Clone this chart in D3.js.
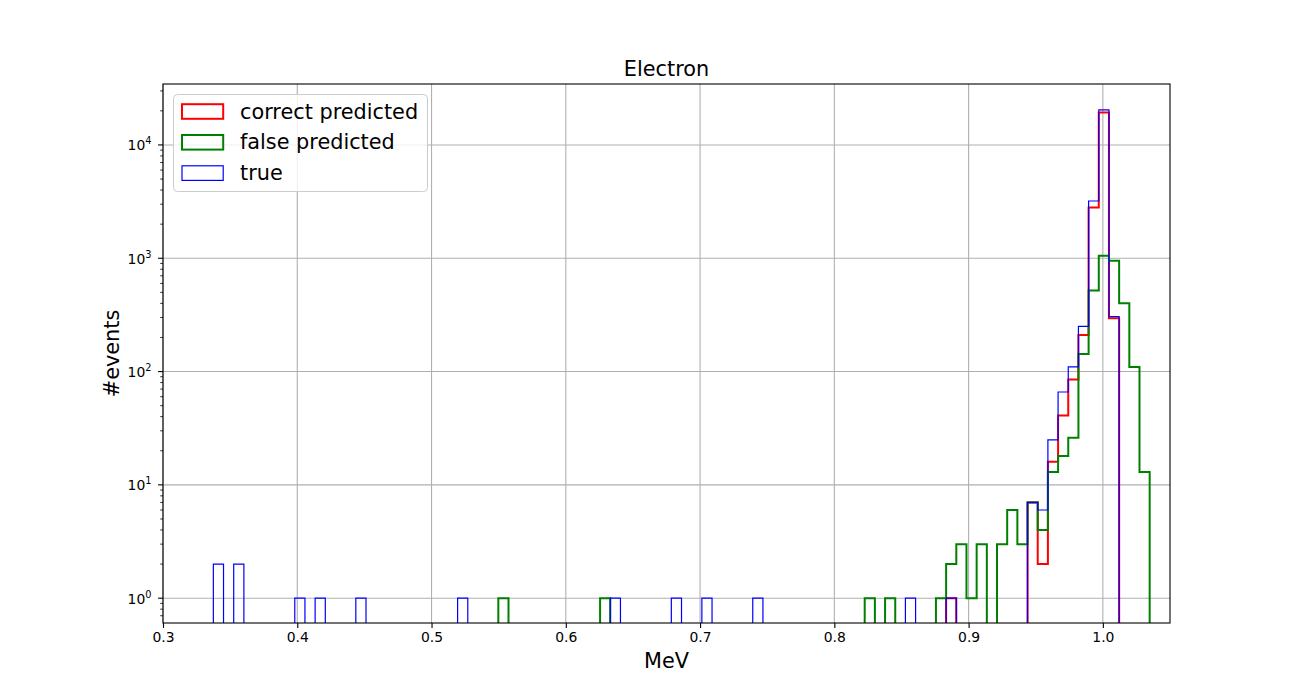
<!DOCTYPE html>
<html>
<head>
<meta charset="utf-8">
<script src="https://cdn.jsdelivr.net/npm/d3@7"></script>
<style>
  body { margin: 0; background: #fff; }
  svg { font-family: "DejaVu Sans", sans-serif; }
</style>
</head>
<body>
<svg id="chart" width="1300" height="700"></svg>
<script>
// ---------- data ----------
const title = "Electron";
const xLabel = "MeV";
const yLabel = "#events";
const binStart = 0.3375;   // MeV, left edge of first bin
const binWidth = 0.00758;  // MeV
const nBins = 92;

// sparse histogram content: bin index -> count
const correctBins   = [72, 80, 81, 82, 83, 84, 85, 86, 87, 88];
const correctCounts = [1, 7, 2, 16, 41, 85, 210, 2800, 19300, 295];

const falseBins   = [28, 38, 64, 66, 71, 72, 73, 74, 75, 77, 78, 79, 80, 81, 82, 83, 84, 85, 86, 87, 88, 89, 90, 91];
const falseCounts = [1, 1, 1, 1, 1, 2, 3, 1, 3, 3, 6, 3, 7, 4, 13, 18, 26, 143, 520, 1050, 950, 400, 110, 13];

const trueBins   = [0, 2, 8, 10, 14, 24, 39, 45, 48, 53, 68, 72, 80, 81, 82, 83, 84, 85, 86, 87, 88];
const trueCounts = [2, 2, 1, 1, 1, 1, 1, 1, 1, 1, 1, 1, 7, 6, 25, 66, 110, 250, 3200, 20400, 305];

const xTicks = [0.3, 0.4, 0.5, 0.6, 0.7, 0.8, 0.9, 1.0];
const xTickLabels = ["0.3", "0.4", "0.5", "0.6", "0.7", "0.8", "0.9", "1.0"];
const yTickExps = [0, 1, 2, 3, 4];

const seriesNames = ["correct predicted", "false predicted", "true"];
const seriesColors = ["#ff0000", "#008000", "#0000ff"];
const seriesWidths = [2, 2, 1.2];

// ---------- layout ----------
const svg = d3.select("#chart");
const L = 163, R = 1170, T = 84, B = 623;
const W = R - L, H = B - T;

const x = d3.scaleLinear().domain([0.3, 1.05]).range([0, W]);
const y = d3.scaleLog().domain([0.604, 34500]).range([H, 0]);

const g = svg.append("g").attr("transform", `translate(${L},${T})`);

svg.append("defs").append("clipPath").attr("id", "plotclip")
  .append("rect").attr("x", 0).attr("y", 0).attr("width", W).attr("height", H);

// grid
const gridColor = "#b0b0b0";
g.append("g").selectAll("line").data(xTicks).join("line")
  .attr("x1", d => x(d)).attr("x2", d => x(d))
  .attr("y1", 0).attr("y2", H)
  .attr("stroke", gridColor).attr("stroke-width", 1.1);
g.append("g").selectAll("line").data(yTickExps).join("line")
  .attr("x1", 0).attr("x2", W)
  .attr("y1", d => y(Math.pow(10, d))).attr("y2", d => y(Math.pow(10, d)))
  .attr("stroke", gridColor).attr("stroke-width", 1.1);

// histograms
function dense(bins, counts) {
  const arr = new Array(nBins).fill(0);
  bins.forEach((b, i) => { arr[b] = counts[i]; });
  return arr;
}
const series = [
  dense(correctBins, correctCounts),
  dense(falseBins, falseCounts),
  dense(trueBins, trueCounts)
];
const edge = k => binStart + k * binWidth;
function yv(c) { return c > 0 ? y(c) : H + 10; }
function stepPath(arr) {
  const pts = [[x(edge(0)), H + 10]];
  arr.forEach((c, k) => {
    pts.push([x(edge(k)), yv(c)]);
    pts.push([x(edge(k + 1)), yv(c)]);
  });
  pts.push([x(edge(nBins)), H + 10]);
  return d3.line()(pts);
}
const histG = g.append("g").attr("clip-path", "url(#plotclip)");
series.forEach((arr, i) => {
  histG.append("path")
    .attr("d", stepPath(arr))
    .attr("fill", "none")
    .attr("stroke", seriesColors[i])
    .attr("stroke-width", seriesWidths[i])
    .attr("stroke-linejoin", "miter");
});

// axes (spines)
g.append("rect").attr("x", 0).attr("y", 0).attr("width", W).attr("height", H)
  .attr("fill", "none").attr("stroke", "#000").attr("stroke-width", 1.1);

// x axis
const xAxis = d3.axisBottom(x).tickValues(xTicks)
  .tickFormat((d, i) => xTickLabels[i]).tickSize(4.9).tickPadding(4.5);
const xg = g.append("g").attr("transform", `translate(0,${H})`).call(xAxis);
xg.select(".domain").remove();
xg.selectAll(".tick line").attr("stroke", "#000").attr("stroke-width", 1.1);
xg.selectAll(".tick text").attr("font-size", 13.9).attr("fill", "#000")
  .attr("font-family", "DejaVu Sans");

// y axis: minor ticks
const minor = [];
for (let e = -1; e <= 4; e++) {
  for (let m = 2; m <= 9; m++) {
    const v = m * Math.pow(10, e);
    if (v >= y.domain()[0] && v <= y.domain()[1]) minor.push(v);
  }
}
g.append("g").selectAll("line").data(minor).join("line")
  .attr("x1", 0).attr("x2", -2.8)
  .attr("y1", d => y(d)).attr("y2", d => y(d))
  .attr("stroke", "#000").attr("stroke-width", 0.8);
// major
const yMajor = g.append("g");
yMajor.selectAll("line").data(yTickExps).join("line")
  .attr("x1", 0).attr("x2", -4.9)
  .attr("y1", d => y(Math.pow(10, d))).attr("y2", d => y(Math.pow(10, d)))
  .attr("stroke", "#000").attr("stroke-width", 1.1);
const yl = yMajor.selectAll("text").data(yTickExps).join("text")
  .attr("x", -11.5)
  .attr("y", d => y(Math.pow(10, d)) + 5.5)
  .attr("text-anchor", "end")
  .attr("font-size", 13.9)
  .attr("fill", "#000");
yl.append("tspan").text("10");
yl.append("tspan").attr("dy", -6).attr("font-size", 9.8).text(d => d);

// labels
svg.append("text").attr("x", L + W / 2).attr("y", 76)
  .attr("text-anchor", "middle").attr("font-size", 20.8).attr("fill", "#000").text(title);
svg.append("text").attr("x", L + W / 2).attr("y", 668)
  .attr("text-anchor", "middle").attr("font-size", 20.8).attr("fill", "#000").text(xLabel);
svg.append("text").attr("transform", `translate(119,${T + H / 2}) rotate(-90)`)
  .attr("text-anchor", "middle").attr("font-size", 20.8).attr("fill", "#000").text(yLabel);

// legend
const lg = svg.append("g");
lg.append("rect").attr("x", 173.5).attr("y", 94.5).attr("width", 254).attr("height", 97)
  .attr("rx", 4).attr("fill", "#fff").attr("fill-opacity", 0.8)
  .attr("stroke", "#cccccc").attr("stroke-width", 1);
seriesNames.forEach((name, i) => {
  const cy = 111.5 + i * 30.8;
  lg.append("rect").attr("x", 182).attr("y", cy - 7.3).attr("width", 41.2).attr("height", 14.6)
    .attr("fill", "none").attr("stroke", seriesColors[i]).attr("stroke-width", seriesWidths[i]);
  lg.append("text").attr("x", 240).attr("y", cy + 7)
    .attr("font-size", 20.8).attr("fill", "#000").text(name);
});
</script>
</body>
</html>
